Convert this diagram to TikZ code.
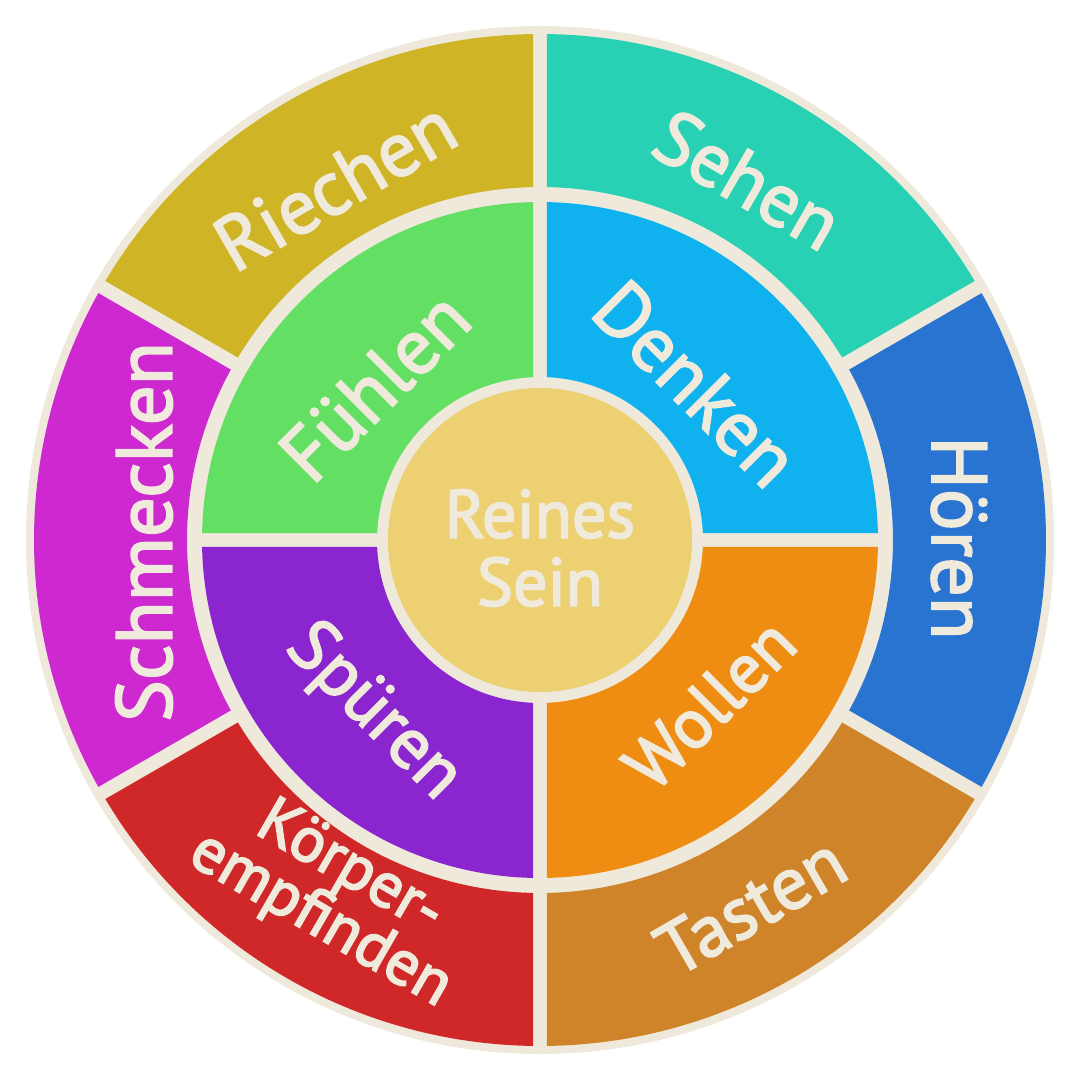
\documentclass[tikz,border=0pt]{standalone}
\usepackage{fontspec}
\setmainfont{PT Sans}
\definecolor{cream}{HTML}{EEE9DA}
\definecolor{txt}{HTML}{EFEADB}
\definecolor{cRiechen}{HTML}{CFB526}
\definecolor{cSehen}{HTML}{29D1B4}
\definecolor{cHoeren}{HTML}{2874D0}
\definecolor{cTasten}{HTML}{CF8429}
\definecolor{cKoerper}{HTML}{D02828}
\definecolor{cSchmecken}{HTML}{CE28D0}
\definecolor{cFuehlen}{HTML}{63DF64}
\definecolor{cDenken}{HTML}{10B1EF}
\definecolor{cWollen}{HTML}{EF8D12}
\definecolor{cSpueren}{HTML}{8B25CF}
\definecolor{cCenter}{HTML}{EDD071}
% annular sector with a 7pt inset from both radial edges
\newcommand{\seg}[5]{% color, a1, a2, rin, rout
  \pgfmathsetmacro{\din}{asin(7/#4)}%
  \pgfmathsetmacro{\dout}{asin(7/#5)}%
  \fill[#1] ({#2+\dout}:#5) arc[start angle={#2+\dout}, end angle={#3-\dout}, radius=#5]
     -- ({#3-\din}:#4) arc[start angle={#3-\din}, end angle={#2+\din}, radius=#4] -- cycle;}
\newcommand{\thick}[1]{\special{pdf:literal direct 2 Tr 1.8 w}#1\special{pdf:literal direct 0 Tr}}
\newcommand{\fs}[1]{\fontsize{#1}{#1}\selectfont}
\tikzset{
  lbl/.style={text=txt, inner sep=0pt, align=center},
}
\begin{document}
\begin{tikzpicture}[x=1pt,y=1pt]
\useasboundingbox (-540,-540) rectangle (540,540);
\fill[white] (-540,-540) rectangle (540,540);
\fill[cream] (0,0) circle[radius=514];
% outer ring
\seg{cSehen}{30}{90}{353}{506}
\seg{cHoeren}{-30}{30}{353}{506}
\seg{cTasten}{-90}{-30}{353}{506}
\seg{cKoerper}{-150}{-90}{353}{506}
\seg{cSchmecken}{150}{210}{353}{506}
\seg{cRiechen}{90}{150}{353}{506}
% inner ring
\seg{cDenken}{0}{90}{163}{338}
\seg{cWollen}{-90}{0}{163}{338}
\seg{cSpueren}{180}{270}{163}{338}
\seg{cFuehlen}{90}{180}{163}{338}
% centre
\fill[cCenter] (0,0) circle[radius=152];
% labels
\node[lbl, rotate=30, font=\fs{77}] (riechen) at (120:410) {\thick{Riechen}};
\node[lbl, rotate=-30, font=\fs{76}] (sehen) at (60:416) {\thick{Sehen}};
\node[lbl, rotate=-90, font=\fs{78}] (hoeren) at (419,2) {\thick{Hören}};
\node[lbl, rotate=30, font=\fs{74}] (tasten) at (-60:422) {\thick{Tasten}};
\node[lbl, rotate=-30, font=\fontsize{64}{53}\selectfont] (koerper) at (-120:410) {\thick{Körper-\\empfinden}};
\node[lbl, rotate=90, font=\fs{79}] (schmecken) at (-396,8) {\thick{Schmecken}};
\node[lbl, rotate=45, font=\fs{78}] (fuehlen) at (137:226) {\thick{Fühlen}};
\node[lbl, rotate=-45, font=\fs{78}] (denken) at (45:221) {\thick{Denken}};
\node[lbl, rotate=45, font=\fs{70}] (wollen) at (-44:236) {\thick{Wollen}};
\node[lbl, rotate=-45, font=\fs{72}] (spueren) at (-134:240) {\thick{Spüren}};
\node[lbl, font=\fontsize{68}{68}\selectfont] (center) at (0,-8) {\thick{Reines\\Sein}};
\end{tikzpicture}
\end{document}
